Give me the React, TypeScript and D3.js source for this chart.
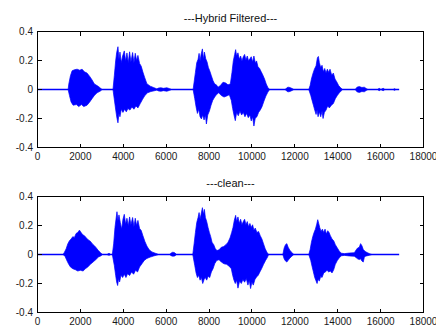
import { useEffect, useRef } from 'react';
import * as d3 from 'd3';

// sample index axis + amplitude axis
const xTicks = [0, 2000, 4000, 6000, 8000, 10000, 12000, 14000, 16000, 18000];
const yTicks = [-0.4, -0.2, 0, 0.2, 0.4];
const nSamples = 16865;

// envelope of the waveforms as [sample, amplitude]
const hybridUpper: [number, number][] = [
  [1428,0],[1458,0.037],[1536,0.095],[1614,0.129],[1722,0.136],[1846,0.14],[1970,0.133],[2079,0.14],[2187,0.122],[2311,0.113],[2435,0.09],[2544,0.066],[2652,0.038],[2776,0.027],[2900,0.014],[3009,0],
  [3520,0],[3582,0.095],[3644,0.197],[3690,0.253],[3752,0.295],[3799,0.208],[3846,0.258],[3908,0.185],[3970,0.231],[4047,0.266],[4109,0.197],[4171,0.252],[4233,0.185],[4295,0.26],[4357,0.19],[4435,0.255],[4497,0.185],[4559,0.25],[4621,0.2],[4683,0.235],[4760,0.18],[4838,0.16],[4915,0.12],[4993,0.085],[5101,0.04],[5256,0.023],[5411,0.014],[5566,0.004],[5644,0.01],[5752,0.012],[5876,0.008],[6031,0.012],[6155,0.006],[6250,0],
  [7256,0],[7302,0.05],[7364,0.118],[7426,0.185],[7488,0.208],[7535,0.249],[7581,0.197],[7628,0.242],[7690,0.28],[7736,0.208],[7783,0.258],[7845,0.212],[7907,0.19],[7969,0.151],[8031,0.129],[8108,0.095],[8186,0.061],[8263,0.038],[8341,0.032],[8418,0.016],[8527,0.027],[8651,0.05],[8775,0.045],[8883,0.032],[8992,0.038],
  [9069,0.118],[9131,0.197],[9193,0.242],[9240,0.275],[9286,0.231],[9348,0.253],[9410,0.208],[9472,0.231],[9534,0.197],[9596,0.226],[9658,0.242],[9720,0.203],[9782,0.231],[9844,0.197],[9906,0.212],[9968,0.226],[10030,0.19],[10092,0.231],[10154,0.185],[10216,0.197],[10278,0.158],[10356,0.145],[10433,0.122],[10511,0.099],[10588,0.072],[10666,0.038],[10743,0.014],[10821,0],
  [11549,0],[11642,0.014],[11720,0.016],[11828,0.01],[11952,0],
  [12649,0],[12711,0.027],[12773,0.072],[12835,0.106],[12913,0.14],[12990,0.163],[13052,0.219],[13099,0.228],[13145,0.185],[13207,0.151],[13269,0.167],[13331,0.122],[13393,0.145],[13455,0.113],[13517,0.14],[13579,0.118],[13641,0.14],[13719,0.099],[13796,0.113],[13874,0.072],[13951,0.054],[14044,0.027],[14153,0.009],[14230,0],
  [14819,0],[14897,0.016],[15005,0.02],[15129,0.014],[15238,0.016],[15346,0.005],[15408,0],
  [15858,0],[15935,0.008],[16013,0],[16121,0.008],[16199,0],[16586,0],[16648,0.006],[16710,0],
];

const hybridLower: [number, number][] = [
  [1428,0],[1490,-0.041],[1567,-0.086],[1660,-0.108],[1815,-0.104],[1924,-0.118],[2048,-0.104],[2156,-0.118],[2311,-0.108],[2435,-0.086],[2544,-0.063],[2652,-0.041],[2776,-0.023],[2931,-0.011],[3009,0],
  [3520,0],[3598,-0.086],[3660,-0.154],[3706,-0.199],[3752,-0.23],[3799,-0.165],[3846,-0.188],[3908,-0.136],[3985,-0.158],[4063,-0.136],[4140,-0.154],[4218,-0.131],[4311,-0.142],[4404,-0.12],[4497,-0.136],[4590,-0.113],[4683,-0.127],[4791,-0.097],[4900,-0.068],[5008,-0.041],[5132,-0.023],[5287,-0.014],[5442,-0.009],[5566,-0.004],[5644,-0.01],[5752,-0.012],[5876,-0.008],[6031,-0.012],[6155,-0.006],[6250,0],
  [7256,0],[7333,-0.063],[7395,-0.12],[7457,-0.165],[7519,-0.136],[7581,-0.188],[7643,-0.203],[7705,-0.176],[7767,-0.21],[7829,-0.176],[7876,-0.238],[7938,-0.176],[8015,-0.149],[8093,-0.108],[8170,-0.075],[8263,-0.052],[8341,-0.036],[8449,-0.023],[8573,-0.041],[8697,-0.052],[8821,-0.045],[8945,-0.036],
  [9038,-0.075],[9100,-0.131],[9162,-0.176],[9224,-0.215],[9286,-0.158],[9364,-0.181],[9441,-0.149],[9519,-0.176],[9596,-0.158],[9674,-0.188],[9751,-0.165],[9829,-0.194],[9906,-0.176],[9968,-0.217],[10030,-0.188],[10092,-0.252],[10154,-0.199],[10232,-0.188],[10309,-0.158],[10387,-0.142],[10464,-0.12],[10557,-0.081],[10650,-0.045],[10743,-0.018],[10821,0],
  [11549,0],[11642,-0.014],[11720,-0.016],[11828,-0.01],[11952,0],
  [12649,0],[12742,-0.041],[12804,-0.075],[12866,-0.108],[12928,-0.142],[12990,-0.172],[13037,-0.142],[13083,-0.188],[13145,-0.154],[13207,-0.188],[13269,-0.149],[13316,-0.2],[13378,-0.158],[13455,-0.142],[13533,-0.113],[13610,-0.127],[13703,-0.108],[13796,-0.097],[13889,-0.063],[13982,-0.041],[14075,-0.023],[14168,-0.009],[14230,0],
  [14819,0],[14897,-0.016],[15005,-0.02],[15129,-0.014],[15238,-0.016],[15346,-0.005],[15408,0],
  [15858,0],[15935,-0.008],[16013,0],[16121,-0.008],[16199,0],[16586,0],[16648,-0.006],[16710,0],
];

const cleanUpper: [number, number][] = [
  [1195,0],[1257,0.016],[1335,0.039],[1412,0.073],[1490,0.095],[1567,0.107],[1645,0.123],[1722,0.118],[1800,0.145],[1877,0.152],[1955,0.168],[2032,0.152],[2110,0.136],[2187,0.13],[2280,0.114],[2373,0.1],[2466,0.091],[2559,0.073],[2652,0.061],[2745,0.045],[2838,0.027],[2931,0.014],[3024,0],
  [3241,0],[3335,0.008],[3412,0],
  [3489,0],[3551,0.073],[3613,0.186],[3660,0.243],[3706,0.295],[3752,0.232],[3799,0.273],[3861,0.22],[3923,0.175],[3985,0.243],[4047,0.277],[4109,0.209],[4171,0.25],[4233,0.198],[4295,0.259],[4357,0.205],[4435,0.255],[4497,0.191],[4559,0.25],[4621,0.2],[4683,0.235],[4760,0.18],[4838,0.165],[4915,0.13],[5008,0.09],[5101,0.058],[5210,0.032],[5334,0.018],[5489,0.009],[5644,0],
  [6170,0],[6230,0.01],[6310,0.016],[6400,0.012],[6480,0],
  [7240,0],[7302,0.073],[7364,0.152],[7426,0.22],[7488,0.255],[7535,0.289],[7581,0.243],[7628,0.277],[7690,0.323],[7736,0.277],[7783,0.311],[7829,0.255],[7891,0.227],[7953,0.186],[8015,0.152],[8077,0.123],[8139,0.084],[8217,0.068],[8294,0.039],[8372,0.027],[8465,0.032],[8573,0.05],[8682,0.055],[8790,0.068],[8883,0.084],[8976,0.114],
  [9054,0.152],[9116,0.186],[9178,0.236],[9240,0.27],[9286,0.227],[9348,0.259],[9410,0.214],[9472,0.243],[9534,0.205],[9596,0.227],[9658,0.243],[9720,0.205],[9782,0.227],[9844,0.191],[9906,0.214],[9968,0.186],[10030,0.205],[10092,0.168],[10154,0.182],[10232,0.152],[10309,0.159],[10387,0.13],[10464,0.107],[10542,0.073],[10619,0.039],[10697,0.016],[10774,0],
  [11440,0],[11502,0.045],[11565,0.068],[11627,0.075],[11689,0.05],[11766,0.03],[11859,0.014],[11952,0],
  [12649,0],[12711,0.032],[12773,0.084],[12835,0.123],[12897,0.152],[12959,0.175],[13021,0.209],[13068,0.24],[13114,0.214],[13161,0.186],[13223,0.159],[13285,0.175],[13347,0.152],[13409,0.175],[13471,0.141],[13533,0.164],[13595,0.152],[13657,0.13],[13734,0.107],[13812,0.095],[13889,0.068],[13982,0.045],[14075,0.023],[14168,0.009],
  [14308,0.006],[14540,0.01],[14773,0.012],[14850,0.03],[14928,0.045],[15005,0.05],[15067,0.075],[15129,0.06],[15191,0.035],[15284,0.02],[15393,0.012],[15501,0.004],[15594,0],
];

const cleanLower: [number, number][] = [
  [1195,0],[1288,-0.014],[1381,-0.045],[1458,-0.068],[1536,-0.086],[1645,-0.098],[1769,-0.105],[1877,-0.114],[2001,-0.109],[2125,-0.114],[2234,-0.098],[2342,-0.086],[2466,-0.068],[2590,-0.052],[2714,-0.036],[2838,-0.018],[2962,-0.009],[3024,0],
  [3241,0],[3335,-0.006],[3412,0],
  [3489,0],[3582,-0.075],[3644,-0.143],[3690,-0.189],[3737,-0.214],[3783,-0.166],[3830,-0.189],[3892,-0.143],[3970,-0.159],[4047,-0.136],[4125,-0.159],[4202,-0.132],[4295,-0.145],[4388,-0.12],[4481,-0.136],[4574,-0.109],[4667,-0.12],[4760,-0.086],[4869,-0.064],[4977,-0.041],[5101,-0.027],[5256,-0.018],[5442,-0.009],[5644,0],
  [6170,0],[6230,-0.008],[6310,-0.012],[6400,-0.01],[6480,0],
  [7240,0],[7333,-0.075],[7395,-0.127],[7457,-0.159],[7519,-0.143],[7581,-0.177],[7643,-0.159],[7705,-0.2],[7767,-0.173],[7829,-0.159],[7891,-0.177],[7953,-0.15],[8031,-0.159],[8108,-0.12],[8186,-0.098],[8263,-0.064],[8356,-0.041],[8465,-0.036],[8573,-0.052],[8697,-0.064],[8821,-0.068],[8945,-0.082],
  [9038,-0.098],[9100,-0.143],[9162,-0.177],[9224,-0.2],[9286,-0.177],[9348,-0.232],[9426,-0.182],[9503,-0.2],[9581,-0.173],[9658,-0.191],[9736,-0.166],[9813,-0.211],[9875,-0.177],[9937,-0.235],[9999,-0.189],[10061,-0.211],[10139,-0.173],[10216,-0.155],[10294,-0.143],[10371,-0.12],[10449,-0.098],[10542,-0.068],[10635,-0.041],[10728,-0.018],[10774,0],
  [11440,0],[11502,-0.03],[11565,-0.045],[11627,-0.052],[11689,-0.04],[11766,-0.025],[11859,-0.012],[11952,0],
  [12649,0],[12742,-0.041],[12804,-0.082],[12866,-0.12],[12928,-0.159],[12990,-0.182],[13037,-0.2],[13083,-0.173],[13145,-0.182],[13207,-0.15],[13269,-0.159],[13347,-0.127],[13424,-0.12],[13502,-0.109],[13579,-0.12],[13657,-0.114],[13734,-0.127],[13812,-0.105],[13889,-0.068],[13982,-0.041],[14075,-0.023],[14168,-0.009],
  [14308,-0.006],[14540,-0.01],[14773,-0.012],[14850,-0.02],[14928,-0.03],[15005,-0.035],[15067,-0.03],[15129,-0.045],[15191,-0.052],[15240,-0.02],[15284,-0.012],[15393,-0.008],[15501,-0.004],[15594,0],
];

const titles = ['---Hybrid Filtered---', '---clean---'];

const W = 436, H = 329;
const BLUE = '#0000ff';
const FONT = "'Liberation Sans', Arial, Helvetica, sans-serif";

export default function App() {
  const svgRef = useRef<SVGSVGElement>(null);

  useEffect(() => {
    if (!svgRef.current) return;
    const svg = d3.select(svgRef.current);
    svg.selectAll('*').remove();

    const left = 37.5, right = 423.5, panelH = 116;
    const panels = [
      { title: titles[0], upper: hybridUpper, lower: hybridLower, top: 31.5 },
      { title: titles[1], upper: cleanUpper, lower: cleanLower, top: 196.5 },
    ];

    const x = d3.scaleLinear().domain([0, 18000]).range([left, right]);
    const tk = 4;

    panels.forEach(p => {
      const bottom = p.top + panelH;
      const y = d3.scaleLinear().domain([-0.4, 0.4]).range([bottom, p.top]);
      const g = svg.append('g');

      // ── title ───────────────────────────────────────
      g.append('text')
        .attr('x', (left + right) / 2).attr('y', p.top - 9.5)
        .attr('text-anchor', 'middle').attr('font-size', '11px')
        .attr('font-family', FONT).attr('fill', '#111')
        .text(p.title);

      // ── waveform ────────────────────────────────────
      const line = d3.line<[number, number]>().x(d => x(d[0])).y(d => y(d[1]));
      g.append('line')
        .attr('x1', x(0)).attr('x2', x(nSamples))
        .attr('y1', y(0)).attr('y2', y(0))
        .attr('stroke', BLUE).attr('stroke-width', 1.4);
      const outline = [...p.upper, ...p.lower.slice().reverse()];
      g.append('path')
        .attr('d', line(outline) + 'Z')
        .attr('fill', BLUE).attr('stroke', BLUE)
        .attr('stroke-width', 0.7).attr('stroke-linejoin', 'miter');

      // ── box + inward ticks ─────────────────────────
      const axes = g.append('g').attr('stroke', '#000').attr('stroke-width', 1)
        .attr('shape-rendering', 'crispEdges');
      axes.append('rect')
        .attr('x', left).attr('y', p.top)
        .attr('width', right - left).attr('height', panelH)
        .attr('fill', 'none');
      xTicks.forEach(t => {
        const xx = Math.round(x(t) - 0.5) + 0.5;
        axes.append('line').attr('x1', xx).attr('x2', xx).attr('y1', bottom).attr('y2', bottom - tk);
        axes.append('line').attr('x1', xx).attr('x2', xx).attr('y1', p.top).attr('y2', p.top + tk);
      });
      yTicks.forEach(t => {
        const yy = Math.round(y(t) - 0.5) + 0.5;
        axes.append('line').attr('x1', left).attr('x2', left + tk).attr('y1', yy).attr('y2', yy);
        axes.append('line').attr('x1', right).attr('x2', right - tk).attr('y1', yy).attr('y2', yy);
      });

      // ── tick labels ─────────────────────────────────
      g.selectAll('.xl').data(xTicks).join('text')
        .attr('x', d => x(d)).attr('y', bottom + 12.5)
        .attr('text-anchor', 'middle').attr('font-size', '10px')
        .attr('font-family', FONT).attr('fill', '#1a1a1a')
        .text(d => String(d));
      g.selectAll('.yl').data(yTicks).join('text')
        .attr('x', left - 4.5).attr('y', d => y(d))
        .attr('dy', '0.36em')
        .attr('text-anchor', 'end').attr('font-size', '10px')
        .attr('font-family', FONT).attr('fill', '#1a1a1a')
        .text(d => String(d));
    });
  }, []);

  return (
    <div style={{ position: 'absolute', left: 0, top: 0, width: W, height: H, background: '#fff' }}>
      <svg ref={svgRef} width={W} height={H} style={{ display: 'block' }} />
    </div>
  );
}
